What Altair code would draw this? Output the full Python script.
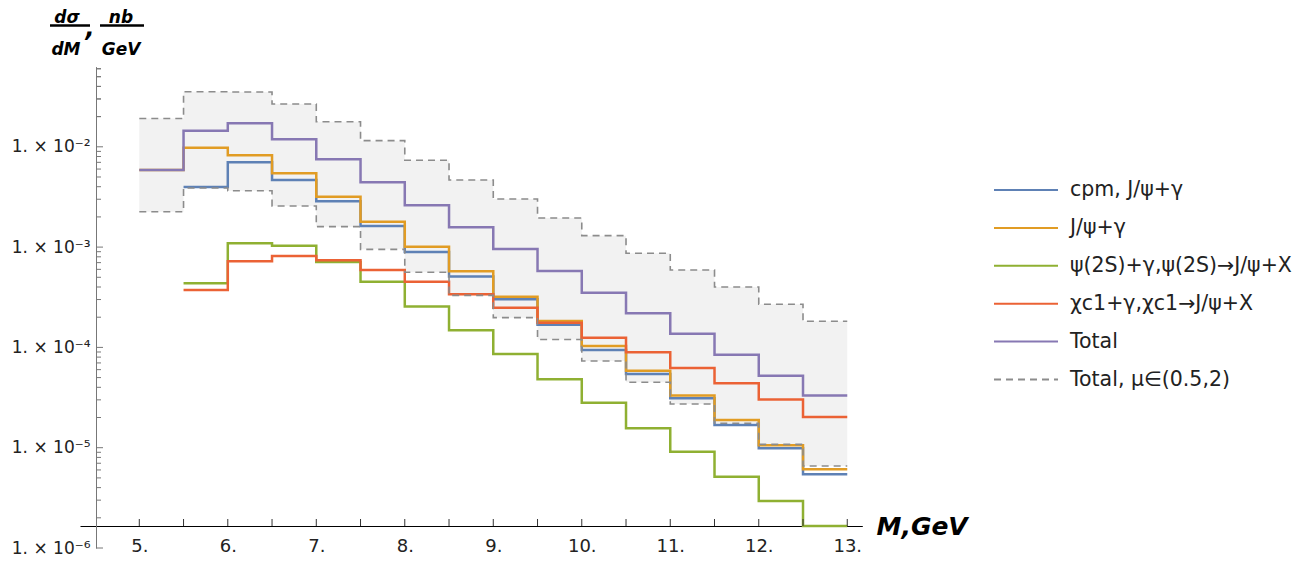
import altair as alt
import pandas as pd
import numpy as np

# ---------------- data ----------------
bin_starts = [5.0, 5.5, 6.0, 6.5, 7.0, 7.5, 8.0, 8.5, 9.0, 9.5, 10.0, 10.5, 11.0, 11.5, 12.0, 12.5]
bin_end = 13.0

cpm = [None, 3.97e-3, 7.00e-3, 4.67e-3, 2.86e-3, 1.62e-3, 8.93e-4, 5.09e-4,
       3.02e-4, 1.68e-4, 9.42e-5, 5.43e-5, 3.11e-5, 1.68e-5, 9.86e-6, 5.43e-6]
jpsi = [5.87e-3, 9.79e-3, 8.23e-3, 5.45e-3, 3.18e-3, 1.79e-3, 1.01e-3, 5.74e-4,
        3.20e-4, 1.83e-4, 1.03e-4, 5.86e-5, 3.31e-5, 1.89e-5, 1.06e-5, 6.10e-6]
psi2s = [None, 4.35e-4, 1.09e-3, 1.03e-3, 7.10e-4, 4.52e-4, 2.55e-4, 1.48e-4,
         8.59e-5, 4.81e-5, 2.81e-5, 1.56e-5, 9.12e-6, 5.14e-6, 2.94e-6, 1.66e-6]
chi = [None, 3.73e-4, 7.21e-4, 8.15e-4, 7.38e-4, 5.91e-4, 4.52e-4, 3.39e-4,
       2.49e-4, 1.76e-4, 1.25e-4, 8.94e-5, 6.23e-5, 4.39e-5, 3.03e-5, 2.02e-5]
total = [5.87e-3, 1.448e-2, 1.715e-2, 1.188e-2, 7.50e-3, 4.42e-3, 2.61e-3, 1.575e-3,
         9.57e-4, 5.78e-4, 3.51e-4, 2.19e-4, 1.37e-4, 8.46e-5, 5.22e-5, 3.31e-5]
upper = [1.914e-2, 3.54e-2, 3.52e-2, 2.67e-2, 1.778e-2, 1.151e-2, 7.35e-3, 4.67e-3,
         3.02e-3, 1.95e-3, 1.30e-3, 8.68e-4, 5.91e-4, 4.00e-4, 2.69e-4, 1.82e-4]
lower = [2.25e-3, 3.88e-3, 3.65e-3, 2.57e-3, 1.60e-3, 9.50e-4, 5.61e-4, 3.30e-4,
         1.98e-4, 1.20e-4, 7.31e-5, 4.49e-5, 2.73e-5, 1.75e-5, 1.08e-5, 6.58e-6]

names = ["cpm, J/ψ+γ", "J/ψ+γ", "ψ(2S)+γ,ψ(2S)→J/ψ+X", "χc1+γ,χc1→J/ψ+X", "Total", "Total, μ∈(0.5,2)"]
colors = ["#5E81B5", "#E19C24", "#8FB032", "#EB6235", "#8778B3", "#8C8C8C"]
dashes = [[1, 0], [1, 0], [1, 0], [1, 0], [1, 0], [7, 5]]

x_ticks = [5.0, 5.5, 6.0, 6.5, 7.0, 7.5, 8.0, 8.5, 9.0, 9.5, 10.0, 10.5, 11.0, 11.5, 12.0, 12.5, 13.0]
x_labels = [5, 6, 7, 8, 9, 10, 11, 12, 13]
y_labels = [1e-6, 1e-5, 1e-4, 1e-3, 1e-2]

# ---------------- geometry ----------------
W, H = 782.3, 481.4
XMIN, XMAX = 4.33, 13.17
DEC = 100.3                      # pixels per decade
YMIN = 1e-6
YMAX = 10 ** (-6 + H / DEC)
PXU = W / (XMAX - XMIN)          # pixels per GeV
ORX, ORY = 80, 66.6              # page position of plot origin
Y_AXIS_SHIFT = 16                # y axis drawn 16 px to the right of plot edge
X_AXIS_UP = 22                   # x axis drawn 22 px above plot bottom


def steps(vals, series, part="main"):
    rows = []
    last = None
    for x, v in zip(bin_starts, vals):
        if v is None:
            continue
        rows.append({"M": x, "v": v, "series": series, "part": part})
        last = v
    rows.append({"M": bin_end, "v": last, "series": series, "part": part})
    return rows


solid_rows = []
for vals, nm in zip([cpm, jpsi, psi2s, chi, total], names[:5]):
    solid_rows += steps(vals, nm)
solid_df = pd.DataFrame(solid_rows)
dash_df = pd.DataFrame(steps(upper, names[5], "up") + steps(lower, names[5], "lo"))
band_df = pd.DataFrame({"M": bin_starts + [bin_end], "lo": lower + [lower[-1]], "hi": upper + [upper[-1]]})

xs = alt.Scale(domain=[XMIN, XMAX], nice=False, zero=False)
ys = alt.Scale(type="log", domain=[YMIN, YMAX], nice=False)
cs = alt.Scale(domain=names, range=colors)
ds = alt.Scale(domain=names, range=dashes)

x_enc = alt.X("M:Q", scale=xs, axis=alt.Axis(
    values=x_labels, labelExpr="datum.value + '.'", ticks=False, grid=False,
    domainColor="black", domainWidth=1, offset=-X_AXIS_UP,
    labelFont="DejaVu Sans", labelFontSize=18, labelColor="#222", labelPadding=11,
    labelBaseline="top",
    title="M,GeV", titleFont="DejaVu Sans", titleFontSize=25, titleFontWeight="bold",
    titleFontStyle="italic", titleColor="black", titleAlign="left", titleBaseline="middle",
    titleX=876 - ORX, titleY=0, titleAngle=0))
y_enc = alt.Y("v:Q", scale=ys, axis=alt.Axis(
    values=y_labels,
    labelExpr="'1. × 10' + ['⁻⁶','⁻⁵','⁻⁴','⁻³','⁻²'][round(log(datum.value)/LN10)+6]",
    ticks=False, grid=False, domainColor="#777", domainWidth=1, offset=-Y_AXIS_SHIFT,
    labelFont="DejaVu Sans", labelFontSize=17, labelColor="#222", labelPadding=6,
    labelBaseline="middle", title=None))

band = alt.Chart(band_df).mark_area(interpolate="step-after", color="#F2F2F2").encode(
    x=alt.X("M:Q", scale=xs), y=alt.Y("lo:Q", scale=ys), y2="hi:Q")

legend = alt.Legend(title=None, orient="none", legendX=993 - ORX, legendY=190 - ORY - 10,
                    symbolType="stroke", symbolSize=4096, symbolStrokeWidth=2,
                    clipHeight=20, rowPadding=16.9, padding=0, labelOffset=11,
                    labelFont="DejaVu Sans", labelFontSize=20.5, labelColor="#222",
                    labelLimit=400)

lines = alt.Chart(solid_df).mark_line(interpolate="step-after", strokeWidth=2.5).encode(
    x=x_enc, y=y_enc,
    color=alt.Color("series:N", scale=cs, legend=legend),
    strokeDash=alt.StrokeDash("series:N", scale=ds, legend=legend),
    detail="part:N")

dlines = alt.Chart(dash_df).mark_line(interpolate="step-after", strokeWidth=1.6).encode(
    x=alt.X("M:Q", scale=xs), y=alt.Y("v:Q", scale=ys),
    color=alt.Color("series:N", scale=cs, legend=legend),
    strokeDash=alt.StrokeDash("series:N", scale=ds, legend=legend),
    detail="part:N")

# axis tick marks pointing into the plot (Mathematica style)
ya = 10 ** (np.log10(YMIN) + X_AXIS_UP / DEC)
xt_df = pd.DataFrame({"M": x_ticks, "y1": [ya] * len(x_ticks), "y2": [ya * 10 ** (7 / DEC)] * len(x_ticks)})
xticks = alt.Chart(xt_df).mark_rule(color="#333", strokeWidth=1).encode(
    x=alt.X("M:Q", scale=xs), y=alt.Y("y1:Q", scale=ys), y2="y2:Q")

x0 = XMIN + Y_AXIS_SHIFT / PXU
yt_vals, yt_len = [], []
for k in range(-6, -1):
    for m in range(1, 10):
        val = m * 10.0 ** k
        if val <= YMAX:
            yt_vals.append(val)
            yt_len.append(7 if m == 1 else 5)
for m in range(2, 7):
    yt_vals.append(m * 1e-2)
    yt_len.append(5)
yt_df = pd.DataFrame({"v": yt_vals, "x1": [x0] * len(yt_vals), "x2": [x0 + L / PXU for L in yt_len]})
yticks = alt.Chart(yt_df).mark_rule(color="#777", strokeWidth=1).encode(
    x=alt.X("x1:Q", scale=xs), x2="x2:Q", y=alt.Y("v:Q", scale=ys))


def txt(s, px, py, size, weight="bold"):
    return alt.Chart(alt.Data(values=[{}])).mark_text(
        text=s, font="DejaVu Sans", fontSize=size, fontWeight=weight, fontStyle="italic",
        align="center", baseline="alphabetic", color="black").encode(
        x=alt.value(px - ORX), y=alt.value(py - ORY))


def bar(px1, px2, py):
    return alt.Chart(alt.Data(values=[{}])).mark_rule(color="black", strokeWidth=2.5).encode(
        x=alt.value(px1 - ORX), x2=alt.value(px2 - ORX), y=alt.value(py - ORY))


ytitle = [txt("dσ", 67, 22.5, 17), bar(50, 90, 25.5), txt("dM", 66, 55, 17),
          txt(",", 90, 36, 24),
          txt("nb", 121, 22.5, 17), bar(100, 144, 25.5), txt("GeV", 121, 55, 17)]

chart = alt.layer(band, lines, dlines, xticks, yticks, *ytitle).properties(
    width=W, height=H,
    background="white",
    autosize=alt.AutoSizeParams(type="none"),
    padding={"left": ORX - 8, "top": ORY - 8, "right": 1292 - (ORX - 8) - W, "bottom": 8},
).configure_view(stroke=None)

chart.save("out.html", embed_options={"renderer": "svg", "actions": False})
